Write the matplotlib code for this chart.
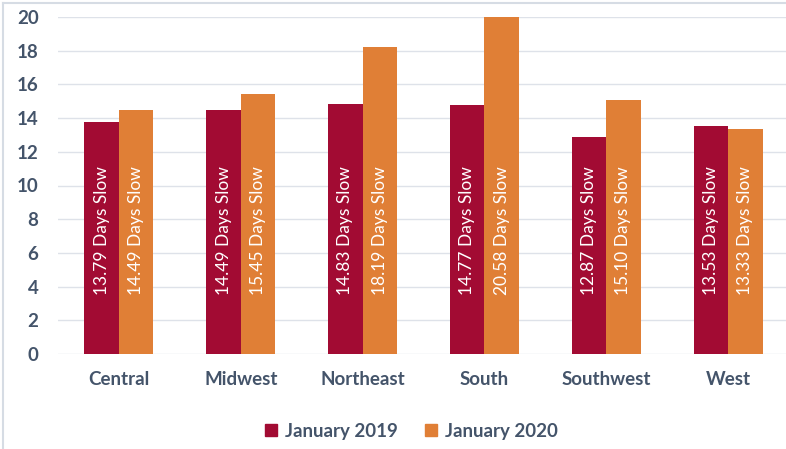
import matplotlib
matplotlib.use("Agg")
import matplotlib.pyplot as plt
import numpy as np
from matplotlib.lines import Line2D

regions = ["Central", "Midwest", "Northeast", "South", "Southwest", "West"]
jan2019 = [13.79, 14.49, 14.83, 14.77, 12.87, 13.53]
jan2020 = [14.49, 15.45, 18.19, 20.58, 15.10, 13.33]
series_names = ["January 2019", "January 2020"]
yticks = [0, 2, 4, 6, 8, 10, 12, 14, 16, 18, 20]

plt.rcParams['font.family'] = ['Lato', 'DejaVu Sans']
C19 = '#A20B33'
C20 = '#E07F36'
TXT = '#44546A'
GRID = '#DEE2E9'

fig = plt.figure(figsize=(7.86, 4.49), dpi=100)
ax = fig.add_axes([58/786, (449-354)/449, (789-58)/786, (354-17)/449])

x = np.arange(len(regions))
w = 0.283
ax.bar(x - w/2, jan2019, width=w, color=C19, zorder=3)
ax.bar(x + w/2, jan2020, width=w, color=C20, zorder=3)

label_center = 7.3
for xi, v in zip(x - w/2, jan2019):
    ax.text(xi, label_center, f"{v:.2f} Days Slow", rotation=90, ha='center', va='center',
            color='white', fontsize=12.5, zorder=4)
for xi, v in zip(x + w/2, jan2020):
    ax.text(xi, label_center, f"{v:.2f} Days Slow", rotation=90, ha='center', va='center',
            color='white', fontsize=12.5, zorder=4)

ax.set_xlim(-0.5, len(regions) - 0.5)
ax.set_ylim(0, 20)
ax.set_yticks(yticks)
ax.set_xticks(x)
ax.set_xticklabels(regions)
ax.tick_params(axis='both', length=0, labelsize=13.5, labelcolor=TXT)
for lab in ax.get_xticklabels() + ax.get_yticklabels():
    lab.set_fontweight('bold')
ax.tick_params(axis='y', pad=14)
ax.tick_params(axis='x', pad=12.5)
for s in ax.spines.values():
    s.set_visible(False)
ax.yaxis.grid(True, color=GRID, lw=1, zorder=0)
ax.set_axisbelow(True)

handles = [Line2D([], [], marker='s', color='none', markerfacecolor=C19, markeredgecolor=C19, markersize=8),
           Line2D([], [], marker='s', color='none', markerfacecolor=C20, markeredgecolor=C20, markersize=8)]
fig.legend(handles, series_names, loc='center', bbox_to_anchor=(411/786, (449-431)/449), ncol=2,
           frameon=False, prop={'size': 13.5, 'weight': 'bold'}, labelcolor=TXT,
           handlelength=0.7, handletextpad=0.4, columnspacing=1.4)

# figure border (left and top)
fig.add_artist(Line2D([3/786, 3/786], [0, 1 - 3/449], color='#D6DCE4', lw=1.5))
fig.add_artist(Line2D([3/786, 1], [1 - 3/449, 1 - 3/449], color='#D6DCE4', lw=1.5))

fig.savefig("out.png", dpi=100)
